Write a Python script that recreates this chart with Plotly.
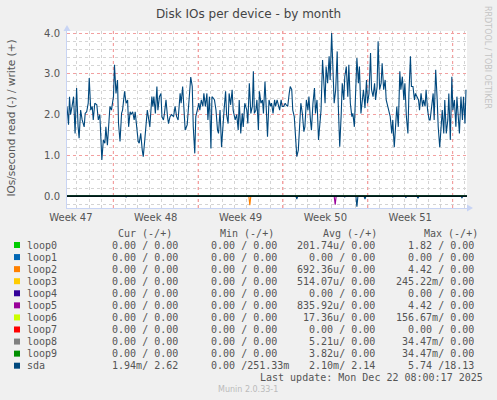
import pandas as pd
import plotly.graph_objects as go

# munin "by month" window: 33 days ending at the last update
WINDOW_START = pd.Timestamp("2025-11-20 04:20")
WINDOW_HOURS = 33 * 24
WEEK_STARTS = ["2025-11-24", "2025-12-01", "2025-12-08", "2025-12-15", "2025-12-22"]

devices = ["loop0", "loop1", "loop2", "loop3", "loop4", "loop5",
           "loop6", "loop7", "loop8", "loop9", "sda"]
colors = ["#00CC00", "#0066B3", "#FF8000", "#FFCC00", "#330099", "#990099",
          "#CCFF00", "#FF0000", "#808080", "#008F00", "#00487D"]

cur_text = ["0.00 / 0.00"] * 10 + ["1.94m/ 2.62"]
min_text = ["0.00 / 0.00"] * 10 + ["0.00 /251.33m"]
avg_text = ["201.74u/ 0.00", "0.00 / 0.00", "692.36u/ 0.00", "514.07u/ 0.00",
            "0.00 / 0.00", "835.92u/ 0.00", "17.36u/ 0.00", "0.00 / 0.00",
            "5.21u/ 0.00", "3.82u/ 0.00", "2.10m/ 2.14"]
max_text = ["1.82 / 0.00", "0.00 / 0.00", "4.42 / 0.00", "245.22m/ 0.00",
            "0.00 / 0.00", "4.42 / 0.00", "156.67m/ 0.00", "0.00 / 0.00",
            "34.47m/ 0.00", "34.47m/ 0.00", "5.74 /18.13"]

# sda writes (IOs/s), hours after window start
sda_write_hours = [
    0, 3, 5, 7, 10, 13, 16, 19, 22, 24, 27, 30, 34, 36, 39, 42, 44, 47, 50, 52,
    55, 59, 62, 65, 69, 72, 75, 77, 80, 83, 85, 88, 92, 94, 97, 100, 102, 105,
    108, 110, 114, 117, 120, 122, 125, 127, 130, 133, 135, 138, 141, 143, 146,
    149, 151, 154, 156, 159, 162, 164, 168, 170, 172, 175, 178, 180, 183, 186,
    188, 191, 193, 196, 199, 201, 204, 207, 211, 214, 217, 220, 224, 226, 229,
    232, 234, 238, 241, 245, 248, 250, 253, 255, 258, 261, 263, 266, 269, 271,
    274, 277, 279, 282, 285, 287, 290, 292, 295, 298, 300, 303, 306, 308, 311,
    314, 316, 319, 321, 324, 327, 329, 333, 336, 339, 341, 344, 347, 349, 352,
    356, 358, 361, 364, 367, 369, 371, 374, 376, 379, 381, 384, 387, 389, 392,
    395, 397, 400, 403, 405, 408, 411, 413, 416, 418, 421, 424, 426, 429, 432,
    434, 437, 440, 442, 445, 447, 450, 453, 455, 458, 461, 463, 466, 469, 471,
    474, 477, 479, 482, 484, 487, 490, 492, 495, 498, 500, 503, 506, 508, 511,
    513, 516, 519, 521, 524, 527, 529, 532, 535, 537, 540, 543, 545, 548, 550,
    553, 556, 558, 561, 564, 566, 569, 572, 574, 577, 579, 582, 585, 587, 590,
    593, 595, 598, 601, 603, 606, 609, 611, 614, 616, 619, 622, 624, 627, 630,
    632, 635, 638, 640, 643, 645, 648, 651, 653, 656, 659, 661, 664, 667, 669,
    672, 675, 677, 680, 682, 685, 688, 690, 693, 696, 698, 701, 704, 706, 709,
    711, 714, 717, 719, 722, 725, 727, 730, 733, 735, 738, 741, 743, 746, 748,
    751, 754, 756, 759, 762, 764, 767, 770, 772, 775, 777, 780, 783, 785, 788,
    790,
]
sda_write = [
    2.20, 1.75, 2.44, 2.00, 2.20, 2.44, 1.54, 2.65, 1.70, 1.42, 2.11, 1.87, 1.70,
    2.03, 2.07, 2.28, 2.90, 2.11, 2.20, 1.87, 2.28, 2.24, 1.87, 2.00, 0.89, 1.38,
    1.30, 1.70, 1.25, 1.70, 2.20, 2.11, 2.44, 3.22, 2.52, 2.85, 1.78, 1.34, 2.03,
    2.11, 2.57, 2.28, 2.36, 1.70, 2.07, 2.00, 2.07, 1.87, 2.07, 1.70, 1.34, 1.30,
    1.54, 1.13, 0.97, 1.38, 1.75, 2.11, 1.87, 1.70, 2.44, 2.20, 2.44, 2.03, 2.69,
    2.11, 2.44, 2.52, 1.95, 1.87, 2.03, 2.36, 1.95, 1.78, 1.95, 2.00, 1.95, 2.20,
    1.95, 1.87, 2.52, 2.28, 2.69, 2.11, 1.62, 1.75, 2.20, 2.92, 2.69, 1.70, 1.05,
    1.95, 2.11, 2.28, 2.11, 2.36, 2.20, 2.52, 2.20, 2.52, 1.87, 2.44, 1.17, 2.44,
    2.40, 2.36, 2.11, 1.62, 1.54, 2.11, 1.20, 1.70, 2.11, 2.57, 2.00, 1.78, 2.52,
    2.24, 2.61, 2.11, 1.87, 2.00, 1.62, 2.36, 1.54, 2.03, 1.70, 2.28, 2.11, 1.78,
    2.77, 2.03, 2.20, 3.06, 2.03, 2.11, 2.36, 1.62, 2.57, 2.28, 2.36, 2.03, 2.81,
    2.03, 1.46, 2.36, 2.20, 2.28, 2.03, 2.36, 2.20, 2.36, 2.28, 2.11, 2.36, 2.20,
    2.20, 2.28, 2.24, 2.20, 2.52, 2.69, 2.61, 2.11, 1.95, 1.46, 0.97, 1.13, 1.78,
    2.28, 2.03, 1.58, 1.70, 2.36, 2.11, 2.44, 1.87, 1.62, 2.28, 2.65, 2.03, 2.36,
    1.38, 1.70, 2.11, 3.34, 2.85, 2.28, 3.18, 2.77, 3.43, 2.85, 4.00, 2.93, 2.28,
    2.61, 3.55, 2.28, 1.21, 2.03, 2.77, 2.36, 2.93, 3.18, 2.44, 3.22, 2.28, 1.95,
    2.03, 1.70, 2.85, 3.39, 2.77, 3.18, 2.03, 2.52, 2.61, 2.16, 2.85, 2.28, 2.52,
    3.51, 2.61, 2.44, 2.77, 2.36, 2.69, 3.80, 2.61, 2.77, 3.26, 2.61, 2.85, 2.36,
    2.20, 2.11, 1.95, 1.54, 1.87, 1.20, 1.70, 2.20, 1.70, 3.06, 2.61, 2.93, 2.36,
    2.77, 1.95, 1.54, 2.52, 3.43, 2.69, 2.69, 2.36, 2.52, 2.44, 2.36, 2.11, 2.52,
    2.20, 2.36, 2.20, 2.61, 2.11, 1.87, 1.87, 2.20, 2.52, 1.87, 3.10, 2.36, 1.70,
    1.20, 1.62, 2.11, 1.54, 2.36, 1.54, 1.87, 2.52, 1.38, 2.93, 2.11, 2.36, 1.70,
    2.44, 1.87, 1.54, 2.44, 1.87, 2.44, 1.78, 2.61,
]

# reads (IOs/s), drawn below zero
sda_read_hours = [0, 115, 117, 119, 453, 455, 457, 548, 550, 552, 572, 574, 576,
                  588, 590, 592, 643, 645, 647, 669, 671, 673, 693, 695, 697,
                  780, 782, 784, 792]
sda_read = [0, 0, 0.02, 0, 0, 0.07, 0, 0, 0.02, 0, 0, 0.26, 0,
            0, 0.07, 0, 0, 0.02, 0, 0, 0.03, 0, 0, 0.05, 0,
            0, 0.04, 0, 0]
loop2_read_hours = [0, 360, 362, 364, 792]
loop2_read = [0, 0, 0.22, 0, 0]
loop5_read_hours = [0, 529, 531, 533, 792]
loop5_read = [0, 0, 0.21, 0, 0]
idle_hours = [0, 792]
idle_values = [0, 0]

W, H = 497, 400
PL, PR, PT, PB = 67, 467, 31, 208
MAJOR_GRID = "#F2A0A0"
MINOR_GRID = "#D4D4D4"


def px(x):
    return (x - PL) / (PR - PL)


def py(y):
    return (PB - y) / (PB - PT)


def to_time(hours):
    return WINDOW_START + pd.to_timedelta(hours, unit="h")


def padded(field):
    read, write = field.split("/")
    return (read.rjust(7) + "/" + write).replace(" ", "\u00a0")


fig = go.Figure()

read_series = {"loop2": (loop2_read_hours, loop2_read),
               "loop5": (loop5_read_hours, loop5_read),
               "sda": (sda_read_hours, sda_read)}
for name, color in zip(devices, colors):
    hrs, vals = read_series.get(name, (idle_hours, idle_values))
    fig.add_trace(go.Scatter(x=to_time(hrs), y=[-v for v in vals], mode="lines",
                             line=dict(color=color, width=1.1), hoverinfo="skip"))
    if name == "sda":
        hrs, vals = sda_write_hours, sda_write
    else:
        hrs, vals = idle_hours, idle_values
    fig.add_trace(go.Scatter(x=to_time(hrs), y=vals, mode="lines",
                             line=dict(color=color, width=1.1), hoverinfo="skip"))

mono = dict(family="DejaVu Sans Mono", size=10, color="#555555")
notes = []
shapes = []


def note(text, x, y, font, anchor="left", **kw):
    notes.append(dict(text=text, x=px(x), y=py(y), xref="paper", yref="paper",
                      xanchor=anchor, yanchor="middle", showarrow=False,
                      borderpad=0, font=font, **kw))


for hx, head in zip([116.7, 219, 321.7, 423.3], ["Cur", "Min", "Avg", "Max"]):
    note(head + " (-/+)", hx, 233.5, mono)

col_x = [98.7, 197.5, 296.3, 395.3]
for i, name in enumerate(devices):
    ry = 245 + 12.07 * i
    shapes.append(dict(type="rect", xref="paper", yref="paper",
                       x0=px(14), x1=px(20), y0=py(ry - 3), y1=py(ry + 3),
                       fillcolor=colors[i], line=dict(width=0)))
    note(name, 25.5, ry, mono)
    for cx, col in zip(col_x, [cur_text, min_text, avg_text, max_text]):
        note(padded(col[i]), cx, ry, mono)

note("Last update: Mon Dec 22 08:00:17 2025", 484, 377.5, mono, anchor="right")
note("Munin 2.0.33-1", 248, 389.5, dict(family="DejaVu Sans", size=8, color="#BBBBBB"),
     anchor="center")
note("RRDTOOL / TOBI OETIKER", 488, 57, dict(family="DejaVu Sans", size=8, color="#C4C4C4"),
     anchor="center", textangle=90)
note("IOs/second read (-) / write (+)", 10.5, 118,
     dict(family="DejaVu Sans", size=10.5, color="#555555"), anchor="center", textangle=-90)

# week boundaries as red dotted rules (the period-label axis can skip the first one)
for wk in WEEK_STARTS:
    shapes.append(dict(type="line", xref="x", yref="paper", x0=wk, x1=wk, y0=0, y1=1,
                       line=dict(color=MAJOR_GRID, width=1, dash="dot"), layer="below"))

# axis arrows and the zero rule
shapes.append(dict(type="path", xref="paper", yref="paper", line=dict(width=0),
                   fillcolor="#C8D4F4",
                   path=f"M {px(63.5)},{py(31)} L {px(70.5)},{py(31)} L {px(67)},{py(25)} Z"))
shapes.append(dict(type="path", xref="paper", yref="paper", line=dict(width=0),
                   fillcolor="#C8D4F4",
                   path=f"M {px(467)},{py(204.5)} L {px(467)},{py(211.5)} L {px(473)},{py(208)} Z"))
shapes.append(dict(type="line", xref="paper", yref="y", x0=0, x1=1, y0=0, y1=0,
                   line=dict(color="#000000", width=1.2), layer="above"))

fig.update_layout(
    width=W, height=H,
    margin=dict(l=PL, r=W - PR, t=PT, b=H - PB),
    paper_bgcolor="#F0F0F0", plot_bgcolor="#FFFFFF",
    showlegend=False,
    font=dict(family="DejaVu Sans", color="#555555"),
    title=dict(text="Disk IOs per device - by month", x=0.5, xanchor="center",
               y=1 - 14 / H, yanchor="middle", yref="container",
               font=dict(family="DejaVu Sans", size=12, color="#444444")),
    xaxis=dict(
        type="date",
        range=[to_time(0), to_time(WINDOW_HOURS)],
        tick0="2025-11-24", dtick=7 * 86400000,
        tickformat="Week %V", ticklabelmode="period",
        showgrid=True, gridcolor=MAJOR_GRID, griddash="dot", gridwidth=1,
        minor=dict(dtick=86400000, tick0="2025-11-24", showgrid=True,
                   gridcolor=MINOR_GRID, griddash="dot", gridwidth=1),
        showline=True, linecolor="#C8D4F4", linewidth=1, zeroline=False,
        ticks="", tickfont=dict(size=10, color="#555555"),
    ),
    yaxis=dict(
        range=[-0.29, 4.05], tick0=0, dtick=1, tickformat=".1f",
        showgrid=True, gridcolor=MAJOR_GRID, griddash="dot", gridwidth=1,
        minor=dict(dtick=0.2, tick0=0, showgrid=True,
                   gridcolor=MINOR_GRID, griddash="dot", gridwidth=1),
        showline=True, linecolor="#C8D4F4", linewidth=1, zeroline=False,
        ticks="outside", ticklen=4, tickcolor="rgba(0,0,0,0)",
        tickfont=dict(size=10, color="#555555"),
    ),
    annotations=notes,
    shapes=shapes,
)

# drop the page's default body margin so the figure sits at the window's corner
fig.write_html("out.html", config={"displayModeBar": False},
               post_script="document.body.style.margin = '0';")
